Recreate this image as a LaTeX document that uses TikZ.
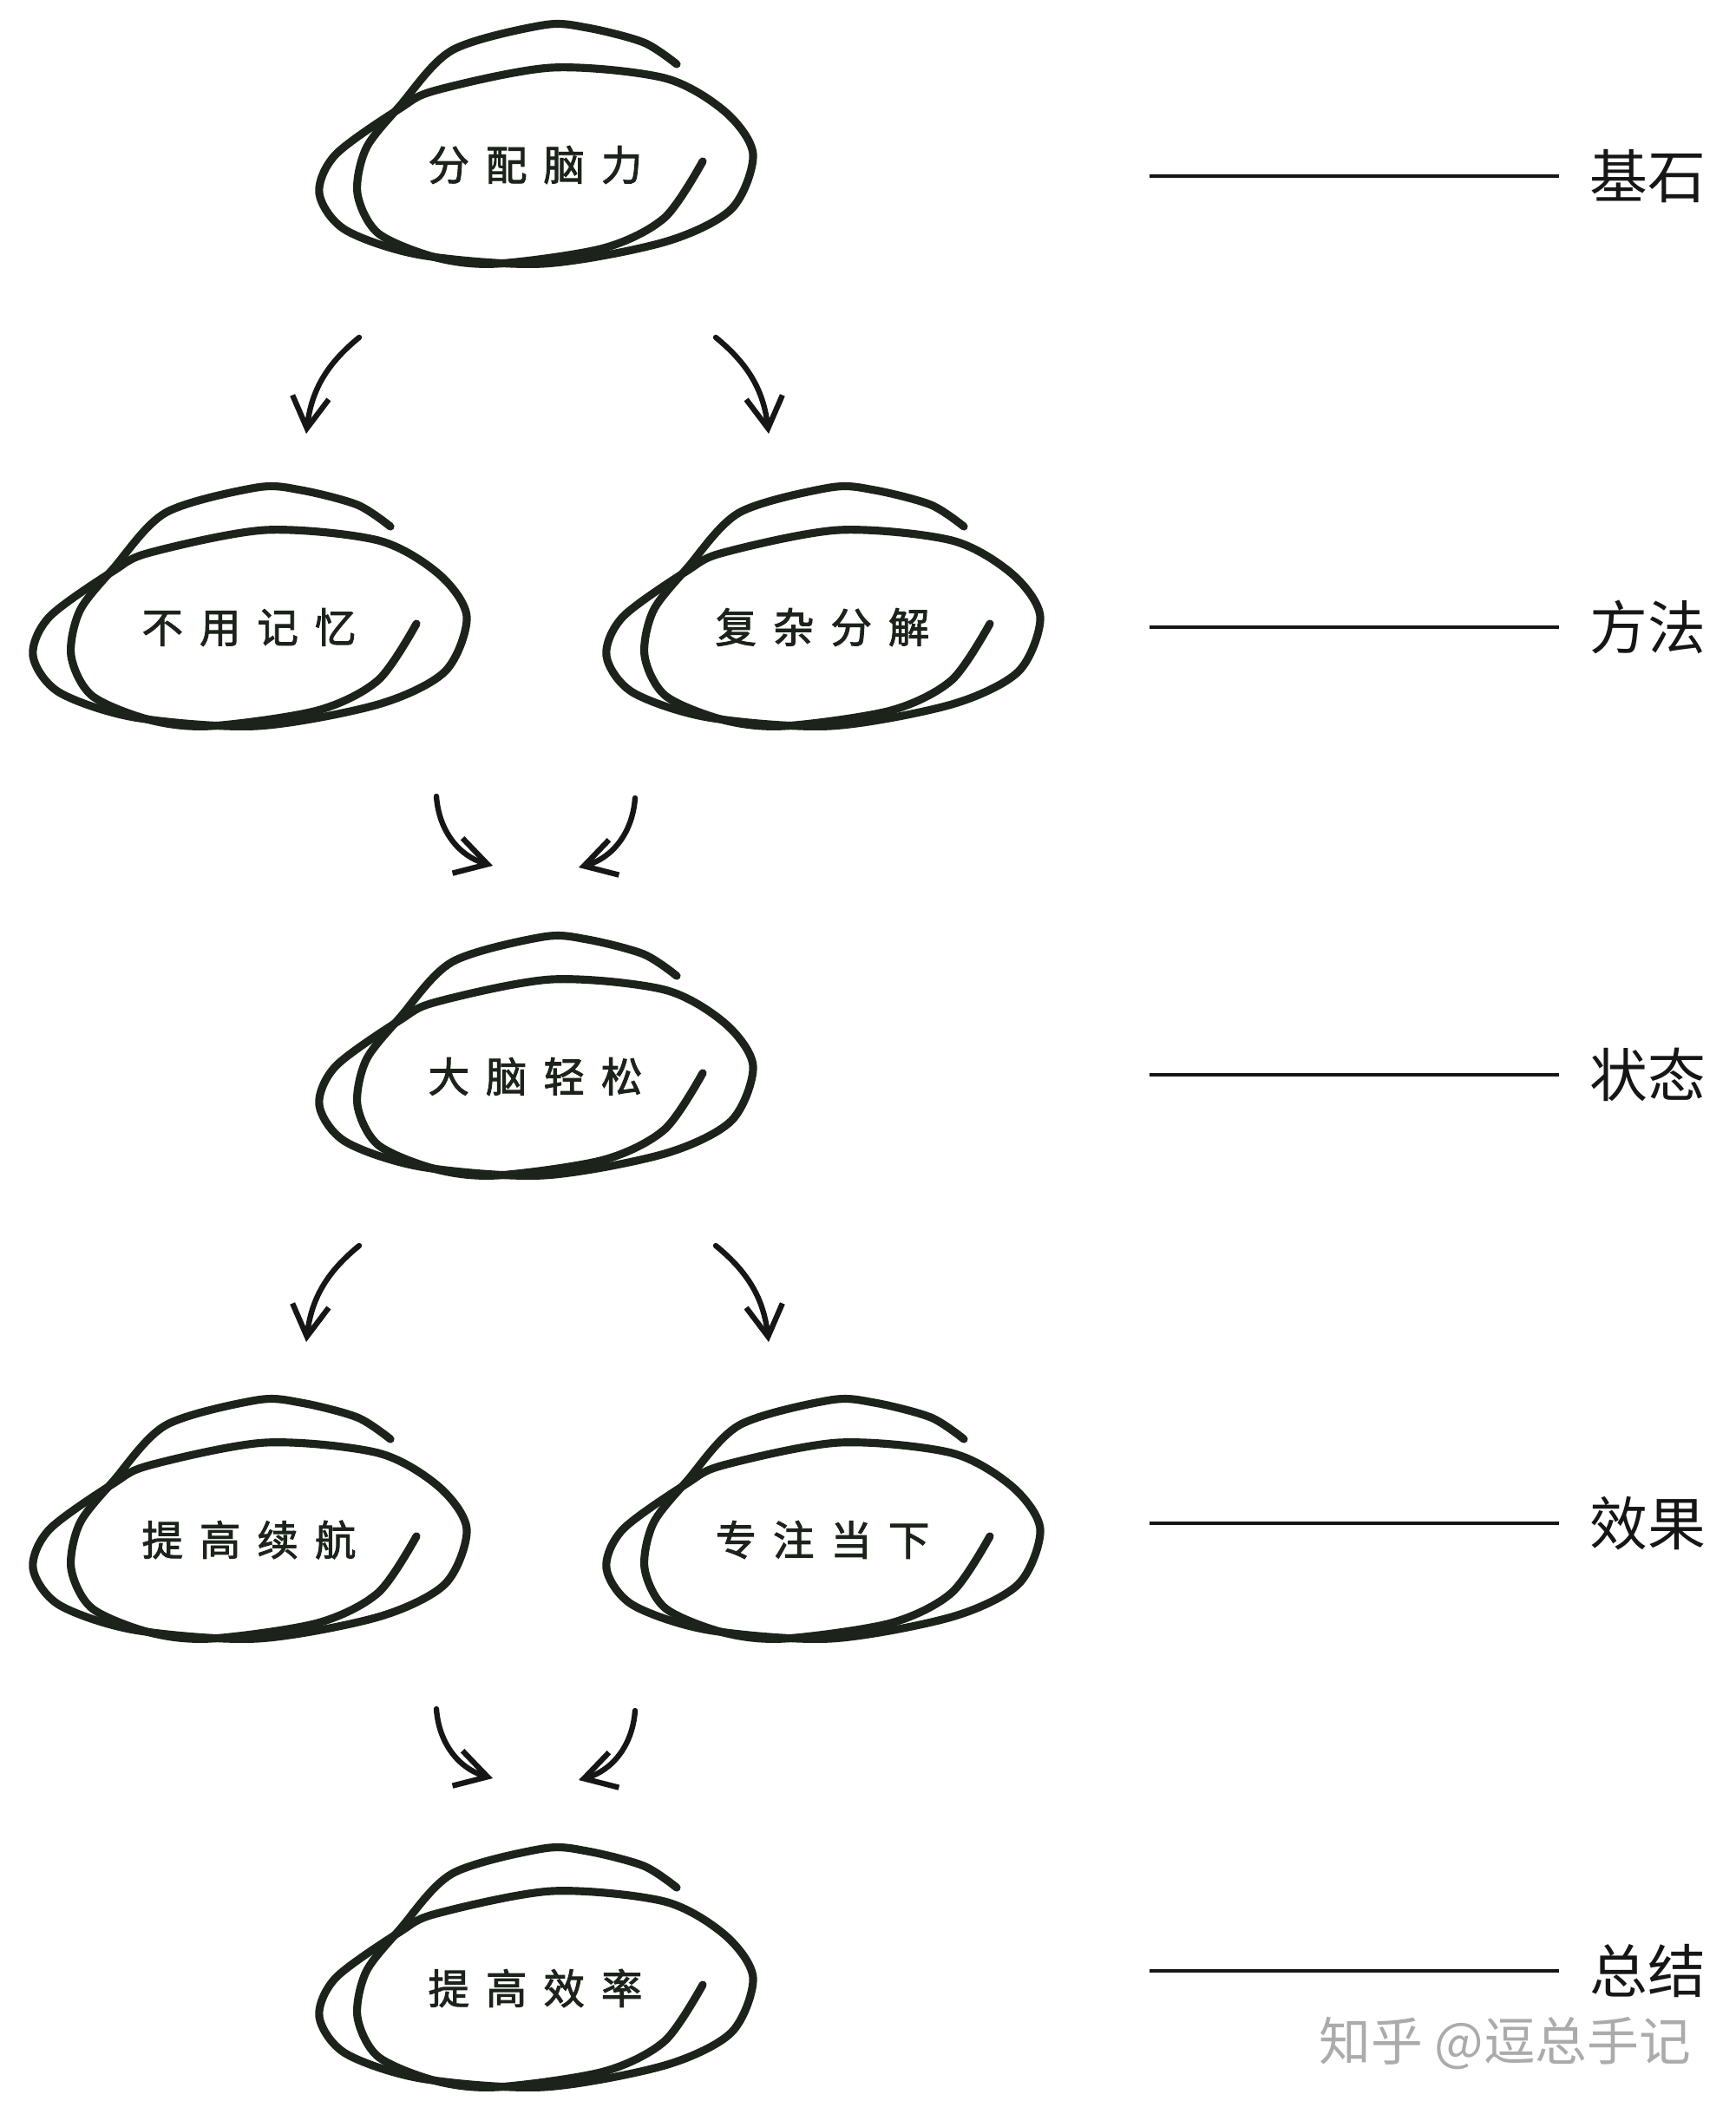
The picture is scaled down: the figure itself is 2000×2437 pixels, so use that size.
\documentclass[tikz,border=0pt]{standalone}
\usepackage{fontspec}
\usetikzlibrary{arrows.meta,positioning}
\newfontfamily\ideafont[LetterSpace=40,FakeBold=2]{Noto Sans CJK SC}
\newfontfamily\tagfont{Noto Sans CJK SC}
\definecolor{dzInk}{HTML}{1B231B}
\definecolor{dzPen}{HTML}{161616}
\definecolor{dzGrey}{HTML}{ABABAB}
\tikzset{
  idea/.style     ={inner sep=0pt,text=dzInk,
                    font=\ideafont\fontsize{13.5pt}{16pt}\selectfont},
  sidetag/.style  ={inner sep=0pt,text=dzPen,anchor=west,
                    font=\tagfont\fontsize{19pt}{21pt}\selectfont},
  wmark/.style    ={inner sep=0pt,text=dzGrey,
                    font=\tagfont\fontsize{17pt}{19pt}\selectfont},
  doodle/.style   ={dzInk,line width=2.6pt,line cap=round,line join=round},
  hand/.style     ={-{Straight Barb[length=3.6mm,width=4.2mm]},dzPen,
                    line width=1.8pt,line cap=round},
  sideline/.style ={dzPen,line width=0.9pt,shorten >=0.35cm},
}

\begin{document}
\begin{tikzpicture}[x=0.01cm,y=0.01cm]
\useasboundingbox[fill=white] (0,0) rectangle (2000,-2437);

%% the seven ideas
\node[idea] (alloc)  at (617,-190)  {分配脑力};
\node[idea] (nomem)  at (287,-723)  {不用记忆};
\node[idea] (split)  at (948,-723)  {复杂分解};
\node[idea] (relax)  at (617,-1241) {大脑轻松};
\node[idea] (endure) at (287,-1775) {提高续航};
\node[idea] (focus)  at (948,-1775) {专注当下};
\node[idea] (effic)  at (617,-2292) {提高效率};

%% scribbled rings round each idea
\foreach \n in {alloc,nomem,split,relax,endure,focus,effic}{
  \begin{scope}[shift={(\n.center)}]
    \draw[doodle] plot[smooth cycle] coordinates {(-249,-33) (-230,12) (-156,65)
      (-114,86) (19,112) (149,100) (219,61) (251,12) (226,-51) (149,-89)
      (9,-114) (-132,-104) (-219,-75)};
    \draw[doodle] plot[smooth] coordinates {(163,116) (125,141) (60,158) (9,161)
      (-96,132) (-156,68) (-195,19) (-205,-33) (-181,-79) (-114,-107)
      (-44,-114) (79,-96) (149,-61) (193,4)};
  \end{scope}
}

%% arrows between the rows
\coordinate (a1s) at (414,-389);  \coordinate (a1e) at (353,-500);
\coordinate (a2s) at (825,-389);  \coordinate (a2e) at (886,-500);
\coordinate (b1s) at (503,-918);  \coordinate (b1e) at (568,-998);
\coordinate (b2s) at (732,-920);  \coordinate (b2e) at (667,-1000);
\coordinate (c1s) at (414,-1436); \coordinate (c1e) at (353,-1547);
\coordinate (c2s) at (825,-1436); \coordinate (c2e) at (886,-1547);
\coordinate (d1s) at (503,-1970); \coordinate (d1e) at (568,-2050);
\coordinate (d2s) at (732,-1972); \coordinate (d2e) at (667,-2052);
\draw[hand] (a1s) to[bend right=22] (a1e);
\draw[hand] (a2s) to[bend left=22]  (a2e);
\draw[hand] (b1s) to[bend right=35] (b1e);
\draw[hand] (b2s) to[bend left=35]  (b2e);
\draw[hand] (c1s) to[bend right=22] (c1e);
\draw[hand] (c2s) to[bend left=22]  (c2e);
\draw[hand] (d1s) to[bend right=35] (d1e);
\draw[hand] (d2s) to[bend left=35]  (d2e);

%% level names on the right
\foreach \k/\y/\t in {1/203/基石,2/723/方法,3/1239/状态,4/1756/效果,5/2272/总结}{
  \node[sidetag] (tag\k) at (1832,-\y) {\t};
  \coordinate (rl\k) at (1325,-\y);
  \draw[sideline] (rl\k) -- (tag\k.west);
}

\node[wmark] (mark) at (1735,-2356) {知乎 @逗总手记};
\end{tikzpicture}
\end{document}
